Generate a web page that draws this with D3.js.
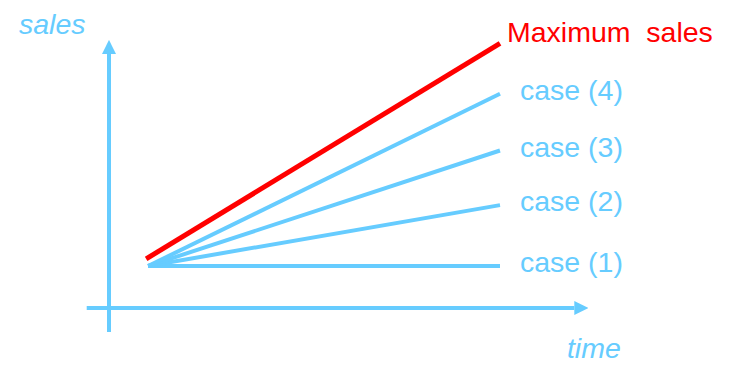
<!DOCTYPE html>
<html>
<head>
<meta charset="utf-8">
<script src="https://cdn.jsdelivr.net/npm/d3@7"></script>
<style>
  body { margin: 0; background: #fff; }
  text { font-family: Arial, "Liberation Sans", sans-serif; }
</style>
</head>
<body>
<div id="chart"></div>
<script>
// series: sales at start time and end time
var seriesNames = ['case (1)', 'case (2)', 'case (3)', 'case (4)', 'Maximum  sales'];
var startTimes = [1, 1, 1, 1, 0.95];
var endTimes = [10, 10, 10, 10, 10];
var startSales = [1, 1, 1, 1, 1.17];
var endSales = [1, 2.45, 3.75, 5.1, 6.3];
var axisLabels = ['time', 'sales'];

var width = 732,
  height = 385,
  fontSize = 28.5,
  blue = '#66ccff',
  red = '#ff0000';

var x = d3.scaleLinear().domain([0, 10]).range([109, 500]);
var y = d3.scaleLinear().domain([0, 1]).range([308, 266]);

var svg = d3.select('#chart').append('svg')
  .attr('width', width)
  .attr('height', height);

svg.append('defs').append('marker')
    .attr('id', 'arrow')
    .attr('viewBox', '0 -5 10 10')
    .attr('refX', 0)
    .attr('refY', 0)
    .attr('markerWidth', 14)
    .attr('markerHeight', 14)
    .attr('markerUnits', 'userSpaceOnUse')
    .attr('orient', 'auto')
  .append('path')
    .attr('d', 'M0,-5L10,0L0,5Z')
    .attr('fill', blue);

// axes
svg.append('line')
  .attr('x1', x(-0.57)).attr('y1', y(0))
  .attr('x2', x(11.9)).attr('y2', y(0))
  .attr('stroke', blue).attr('stroke-width', 4)
  .attr('marker-end', 'url(#arrow)');

svg.append('line')
  .attr('x1', x(0)).attr('y1', y(-0.57))
  .attr('x2', x(0)).attr('y2', y(6.05))
  .attr('stroke', blue).attr('stroke-width', 4)
  .attr('marker-end', 'url(#arrow)');

svg.append('text')
  .attr('x', x(12.4))
  .attr('y', y(0) + 50)
  .attr('text-anchor', 'middle')
  .attr('font-size', fontSize)
  .attr('font-style', 'italic')
  .attr('fill', blue)
  .text(axisLabels[0]);

svg.append('text')
  .attr('x', 19)
  .attr('y', y(6.5) - 1)
  .attr('font-size', fontSize)
  .attr('font-style', 'italic')
  .attr('fill', blue)
  .text(axisLabels[1]);

var rows = d3.range(seriesNames.length);

svg.append('g').selectAll('line')
    .data(rows)
  .enter().append('line')
    .attr('x1', function (i) { return x(startTimes[i]); })
    .attr('y1', function (i) { return y(startSales[i]); })
    .attr('x2', function (i) { return x(endTimes[i]); })
    .attr('y2', function (i) { return y(endSales[i]); })
    .attr('stroke', function (i) { return i === 4 ? red : blue; })
    .attr('stroke-width', function (i) { return i === 4 ? 5 : 4; });

svg.append('g').selectAll('text')
    .data(rows)
  .enter().append('text')
    .attr('x', function (i) { return x(endTimes[i]) + (i === 4 ? 7 : 20); })
    .attr('y', function (i) { return y(endSales[i]) + (i === 4 ? -1 : 6); })
    .attr('font-size', fontSize)
    .attr('fill', function (i) { return i === 4 ? red : blue; })
    .style('white-space', 'pre')
    .text(function (i) { return seriesNames[i]; });
</script>
</body>
</html>
